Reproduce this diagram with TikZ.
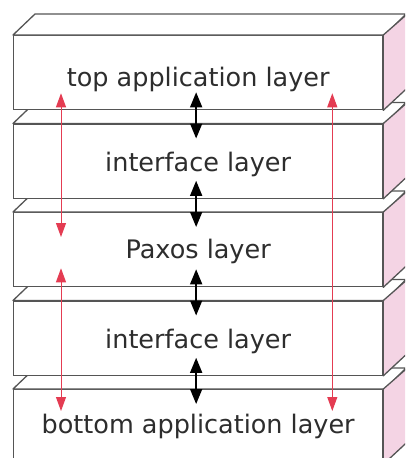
\documentclass[tikz,border=0pt]{standalone}
\usepackage{fontspec}
\setmainfont{DejaVu Sans}
\usetikzlibrary{arrows.meta}
\definecolor{sidepink}{RGB}{244,212,228}
\definecolor{linkred}{RGB}{228,60,82}
\definecolor{edgegray}{RGB}{85,85,85}
\definecolor{textgray}{RGB}{45,45,45}
\begin{document}
\begin{tikzpicture}[x=1pt,y=1pt,
    layer/.style={draw=edgegray, line width=1.3pt, fill=white, minimum width=369pt,
      minimum height=74pt, inner sep=0pt, text=textgray,
      font=\fontsize{25.5}{30}\selectfont, anchor=north west},
    face/.style={draw=edgegray, line width=1.3pt, line join=round},
    updown/.style={line width=1.5pt, {Triangle[width=12pt,length=15pt]}-{Triangle[width=12pt,length=15pt]}},
    redlink/.style={linkred, line width=1pt, {Triangle[width=10pt,length=14pt]}-{Triangle[width=10pt,length=14pt]}}]
    \useasboundingbox (0,0) rectangle (405,-458);
    \begin{scope}
        \clip (0,0) rectangle (405,-458);
        \foreach \name/\txt/\lift [count=\i] in {bottom/bottom application layer/0pt,
            ifaceb/interface layer/-3pt, paxos/Paxos layer/-2pt,
            ifacea/interface layer/-3pt, top/top application layer/-7pt} {
            \pgfmathsetmacro{\ytop}{-35-88.5*(5-\i)}
            \node[layer] (\name) at (13,\ytop) {\raisebox{\lift}[\height][\depth]{\txt}};
            \filldraw[face, fill=white] (\name.north west) -- ++(22,21) -- ++(371,0) -- ([xshift=2pt]\name.north east) -- cycle;
            \filldraw[face, fill=sidepink] (\name.north east) -- ++(24,21) -- ++(0,-74) -- (\name.south east) -- cycle;
        }
    \end{scope}
    \foreach \a/\b in {top/ifacea, ifacea/paxos, paxos/ifaceb, ifaceb/bottom}
        \draw[updown, shorten <=-18pt, shorten >=-15pt] ([xshift=-2pt]\a.south) -- ([xshift=-2pt]\b.north);
    \draw[redlink, shorten <=-17pt, shorten >=-25pt] ([xshift=48pt]top.south west) -- ([xshift=48pt]paxos.north west);
    \draw[redlink, shorten <=-19pt, shorten >=-22pt] ([xshift=48pt]paxos.south west) -- ([xshift=48pt]bottom.north west);
    \draw[redlink, shorten <=-17pt, shorten >=-22pt] ([xshift=-51pt]top.south east) -- ([xshift=-51pt]bottom.north east);
\end{tikzpicture}
\end{document}
